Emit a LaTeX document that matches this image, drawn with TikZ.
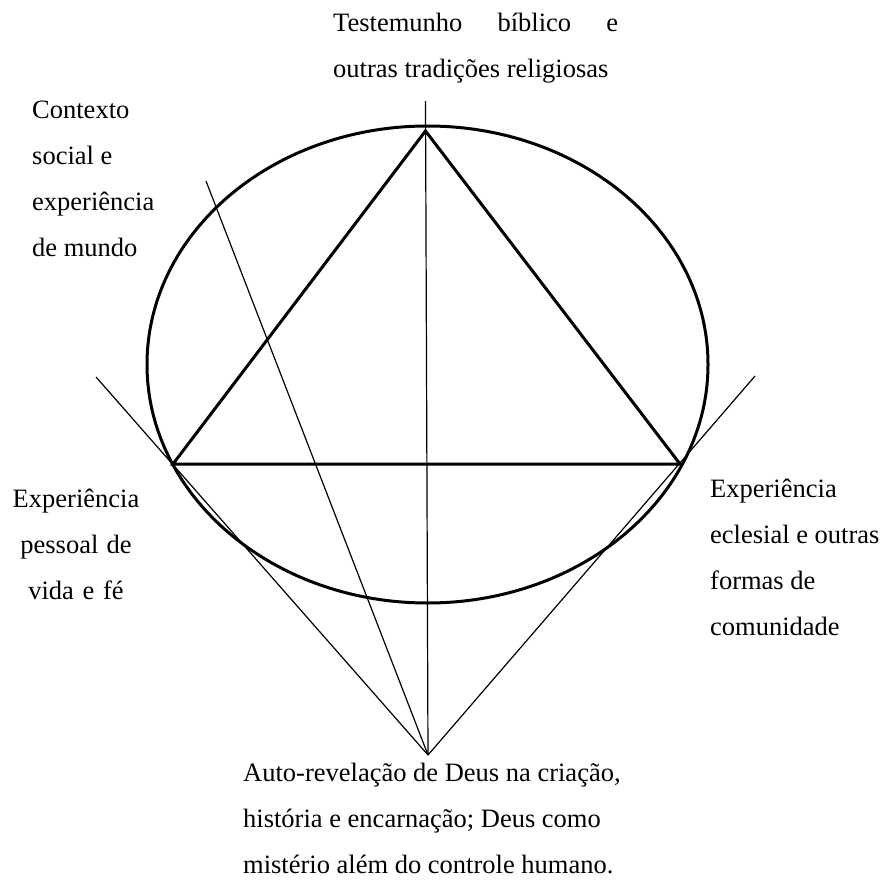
\documentclass[tikz,border=0pt]{standalone}
\usepackage{fontspec}
\setmainfont{Liberation Serif}
\begin{document}
\begin{tikzpicture}[x=1pt,y=-1pt,
  thickline/.style={line width=3pt},
  thinline/.style={line width=1.2pt},
  lbl/.style={inner sep=0pt, font={\fontsize{26.5}{46}\selectfont}, text width=#1}]
\useasboundingbox (0,0) rectangle (881,880);
% key points
\coordinate (C) at (427.5,364.5);
\coordinate (T) at (425.5,131);
\coordinate (L) at (173,464);
\coordinate (R) at (680,464);
\coordinate (G) at (428,755);
\coordinate (V) at (425.5,101);
\coordinate (LT) at (96,377);
\coordinate (RT) at (755,376);
\coordinate (S) at (206,181);
% circle and triangle
\draw[thickline] (C) ellipse [x radius=280.5pt, y radius=238.5pt];
\draw[thickline] (T) -- (R) -- (L) -- cycle;
% thin lines
\draw[thinline] (V) -- (G);
\draw[thinline] (LT) -- (G);
\draw[thinline] (RT) -- (G);
\draw[thinline] (S) -- (G);
% labels
\node[lbl=300pt, align=left, anchor=base west] (top) at (333,31.7)
  {\spaceskip=0pt\relax\makebox[285pt]{Testemunho\hfill bíblico\hfill e}\\outras tradições religiosas};
\node[lbl=160pt, align=left, anchor=base west] (ctx) at (32,118.3)
  {\spaceskip=0pt\relax Contexto\\social e\\experiência\\de mundo};
\node[lbl=160pt, align=center, anchor=base] (pes) at (76,507)
  {\spaceskip=0pt\relax Experiência\\pessoal de\\vida e fé};
\node[lbl=200pt, align=left, anchor=base west] (ecl) at (710,497)
  {\spaceskip=0pt\relax Experiência\\eclesial e outras\\formas de\\comunidade};
\node[lbl=420pt, align=left, anchor=base west] (rev) at (243,781.7)
  {\spaceskip=0pt\relax Auto-revelação de Deus na criação,\\história e encarnação; Deus como\\mistério além do controle humano.};
\end{tikzpicture}
\end{document}
